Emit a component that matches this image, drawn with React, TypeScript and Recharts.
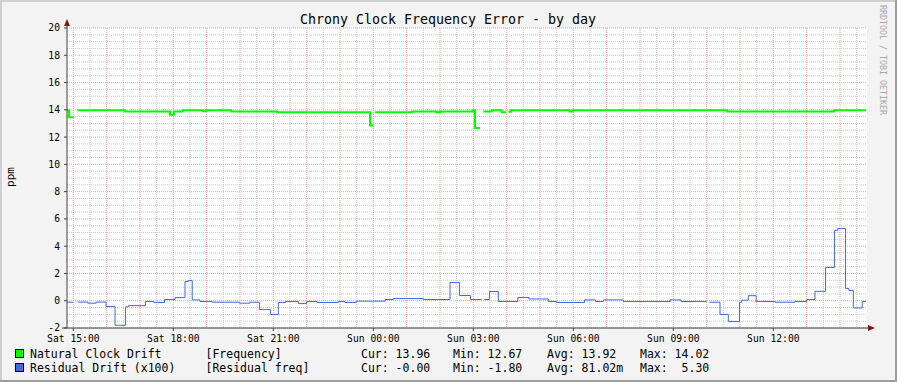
import React from "react";
import { LineChart, Line, XAxis, YAxis, CartesianGrid } from "recharts";

// minutes from Sat 15:00; each value holds until the next time, null = no data
const naturalTimes = [-11.4, -7.8, 0, 7.2, 93, 174, 181, 197, 233, 239, 284, 367, 534, 540, 543, 609, 654, 660, 719, 723, 732, 738, 753, 771, 779, 783, 788, 893, 899, 1177, 1369, 1427];
const naturalValues = [13.96, 13.46, null, 13.96, 13.88, 13.63, 13.88, 13.96, 13.9, 13.96, 13.88, 13.82, 12.85, null, 13.82, 13.88, 13.82, 13.88, 13.96, 12.67, null, 13.88, 13.96, 13.82, null, 13.86, 13.96, 13.88, 13.96, 13.88, 13.96];

const residualTimes = [-11.4, 0, 8, 26, 41, 59, 75, 94, 99, 130, 145, 164, 183, 201, 207, 214, 228, 250, 299, 318, 335, 355, 369, 382, 405, 420, 439, 477, 489, 509, 561, 576, 630, 678, 695, 715, 735, 740, 749, 765, 800, 820, 855, 870, 920, 940, 954, 990, 1074, 1094, 1140, 1145, 1164, 1179, 1199, 1203, 1215, 1229, 1263, 1299, 1320, 1335, 1354, 1370, 1376, 1390, 1396, 1404, 1420, 1427];
const residualValues = [-0.11, null, -0.1, -0.18, -0.1, -0.43, -1.8, -0.45, -0.36, -0.06, -0.13, 0.09, 0.23, 1.41, 1.48, 0.06, -0.06, -0.11, -0.18, -0.11, -0.65, -1.01, -0.13, -0.06, -0.21, -0.06, -0.13, -0.06, -0.13, -0.03, 0.09, 0.16, 0.09, 1.34, 0.38, 0.09, null, 0.09, 0.68, -0.06, 0.24, 0.13, -0.06, -0.13, 0.06, -0.06, 0.06, -0.06, 0.06, -0.06, null, -0.11, -1.01, -1.53, -0.11, 0.04, 0.37, -0.06, -0.11, -0.06, 0.09, 0.69, 2.44, 5.16, 5.3, 0.9, 0.75, -0.53, -0.06];

const xTicks = [0, 180, 360, 540, 720, 900, 1080, 1260];
const xLabels = ["Sat 15:00", "Sat 18:00", "Sat 21:00", "Sun 00:00", "Sun 03:00", "Sun 06:00", "Sun 09:00", "Sun 12:00"];
const yTicks = [-2, 0, 2, 4, 6, 8, 10, 12, 14, 16, 18, 20];

const legendRows = [
  { name: "Natural Clock Drift", src: "[Frequency]", cur: "Cur: 13.96", min: "Min: 12.67", avg: "Avg: 13.92", max: "Max: 14.02", color: "#00ff00" },
  { name: "Residual Drift (x100)", src: "[Residual freq]", cur: "Cur: -0.00", min: "Min: -1.80", avg: "Avg: 81.02m", max: "Max:\u00a0\u00a05.30", color: "#4169e1" },
];

const X_DOMAIN: [number, number] = [-11.4, 1428.6];
const FONT = "DejaVu Sans Mono";

function steps(times: number[], values: (number | null)[]) {
  const out: { t: number; v: number | null }[] = [];
  for (let i = 0; i < values.length; i++) {
    const v = values[i];
    out.push({ t: times[i], v });
    if (v !== null && (values[i + 1] === null || values[i + 1] === undefined)) {
      out.push({ t: times[i + 1], v });
    }
  }
  return out;
}

const naturalData = steps(naturalTimes, naturalValues);
const residualData = steps(residualTimes, residualValues);

const minorX: number[] = [];
const majorX: number[] = [];
for (let m = 0; m <= 1420; m += 30) (m % 60 === 0 ? majorX : minorX).push(m);
const minorY: number[] = [];
for (let v = -1.5; v < 20; v += 0.5) if (v % 2 !== 0) minorY.push(v);

export default function App() {
  return (
    <div style={{ position: "absolute", left: 0, top: 0, width: 897, height: 382, background: "#f3f3f3" }}>
      <LineChart width={897} height={382} margin={{ top: 28, right: 30, left: 0, bottom: 24 }}>
        <CartesianGrid
          fill="#ffffff"
          stroke="#c8c8c8"
          strokeDasharray="1 1"
          horizontalValues={minorY}
          verticalValues={minorX}
        />
        <CartesianGrid
          stroke="#f2a0a0"
          strokeDasharray="1 1"
          horizontalValues={yTicks}
          verticalValues={majorX}
        />
        <XAxis
          type="number"
          dataKey="t"
          domain={X_DOMAIN}
          allowDataOverflow
          ticks={xTicks}
          tickFormatter={(v: number) => xLabels[xTicks.indexOf(v)] ?? ""}
          height={30}
          axisLine={false}
          tickSize={3}
          tickMargin={4}
          tickLine={{ stroke: "#404040" }}
          tick={{ fill: "#000", fontSize: 9.7, fontFamily: FONT }}
          interval={0}
        />
        <YAxis
          type="number"
          domain={[-2, 20]}
          ticks={yTicks}
          width={67}
          axisLine={false}
          tickSize={3}
          tickMargin={4}
          tickLine={{ stroke: "#404040" }}
          tick={{ fill: "#000", fontSize: 9.7, fontFamily: FONT }}
          interval={0}
        />
        <Line
          data={naturalData}
          dataKey="v"
          type="stepAfter"
          stroke="#00ff00"
          strokeWidth={2}
          dot={false}
          activeDot={false}
          connectNulls={false}
          isAnimationActive={false}
        />
        <Line
          data={residualData}
          dataKey="v"
          type="stepAfter"
          stroke="#4169e1"
          strokeWidth={1}
          dot={false}
          activeDot={false}
          connectNulls={false}
          isAnimationActive={false}
        />
      </LineChart>
      <svg
        width={897}
        height={382}
        style={{ position: "absolute", left: 0, top: 0, pointerEvents: "none" }}
        fontFamily={FONT}
      >
        {/* frame */}
        <rect x={0} y={0} width={897} height={2} fill="#cfcfcf" />
        <rect x={0} y={0} width={2} height={382} fill="#cfcfcf" />
        <rect x={0} y={380} width={897} height={2} fill="#9d9d9d" />
        <rect x={895} y={0} width={2} height={382} fill="#9d9d9d" />
        {/* axes with arrows */}
        <line x1={67} y1={328} x2={67} y2={24} stroke="#404040" strokeWidth={1} />
        <line x1={62} y1={328} x2={870} y2={328} stroke="#404040" strokeWidth={1} />
        <polygon points="64,26 70,26 67,19" fill="#801818" />
        <polygon points="868,325 868,331 875,328" fill="#801818" />
        <text x={448} y={24} textAnchor="middle" fontSize={13.3} fill="#000">
          Chrony Clock Frequency Error - by day
        </text>
        <text x={14} y={177} textAnchor="middle" fontSize={11} fill="#000" transform="rotate(-90 14 177)">
          ppm
        </text>
        <text x={883} y={5} fontSize={8.3} fill="#a8a8a8" transform="rotate(90 883 5)" dominantBaseline="central">
          RRDTOOL / TOBI OETIKER
        </text>
        {legendRows.map((r, i) => {
          const y = 354 + i * 14;
          return (
            <g key={r.name} fontSize={11.5} fill="#000">
              <rect x={15.5} y={y - 4.5} width={8} height={8} fill={r.color} stroke="#000" />
              <text x={30} y={y} dominantBaseline="central">{r.name}</text>
              <text x={205.5} y={y} dominantBaseline="central">{r.src}</text>
              <text x={361} y={y} dominantBaseline="central">{r.cur}</text>
              <text x={453} y={y} dominantBaseline="central">{r.min}</text>
              <text x={547} y={y} dominantBaseline="central">{r.avg}</text>
              <text x={640} y={y} dominantBaseline="central">{r.max}</text>
            </g>
          );
        })}
      </svg>
    </div>
  );
}
